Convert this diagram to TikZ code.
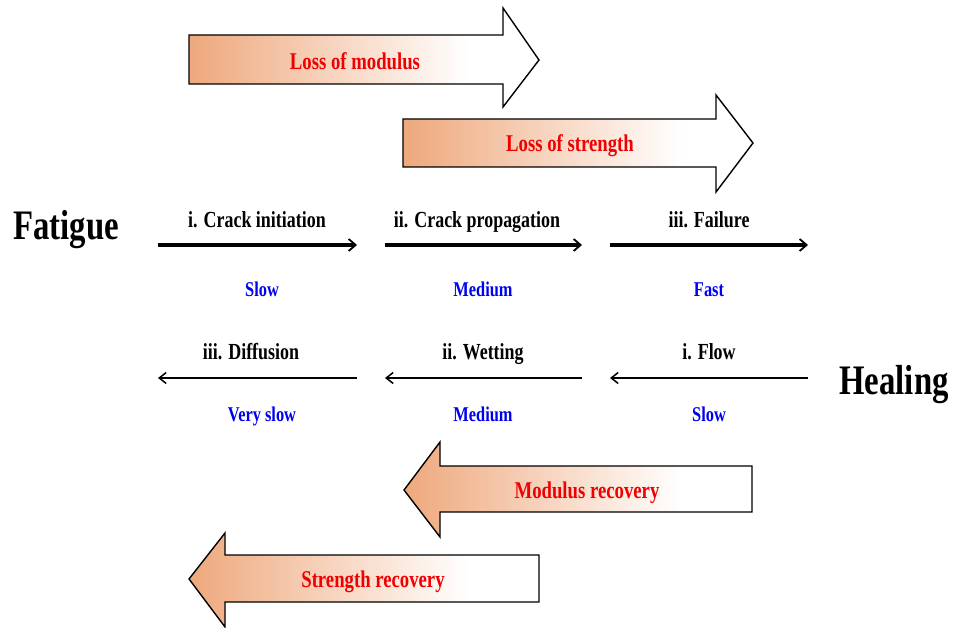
\documentclass[tikz,border=0pt]{standalone}
\usepackage{fontspec}
\setmainfont{Liberation Serif}[FakeStretch=0.78]
\usetikzlibrary{arrows.meta}
\definecolor{org}{RGB}{238,168,124}
\definecolor{lblred}{RGB}{240,0,0}
\definecolor{lblblue}{RGB}{0,0,240}
\pgfdeclarehorizontalshading{arrsh}{100bp}{color(0bp)=(org); color(25bp)=(org); color(65bp)=(white); color(100bp)=(white)}
\tikzset{
  bigarrow/.style={draw=black, line width=1.4pt, line join=miter, shading=arrsh},
  redlbl/.style={anchor=base, text=lblred, font=\bfseries\fontsize{24}{28}\selectfont},
  steplbl/.style={anchor=base, text=black, font=\bfseries\fontsize{23}{27}\selectfont},
  ratelbl/.style={anchor=base, text=lblblue, font=\bfseries\fontsize{21}{24}\selectfont},
  titlelbl/.style={anchor=base, text=black, font=\bfseries\fontsize{42}{48}\selectfont},
  fwd/.style={line width=3.2pt, -{Straight Barb[length=7pt,width=12pt,line width=1.8pt]}},
  bwd/.style={line width=2.2pt, -{Straight Barb[length=7pt,width=11pt,line width=1.5pt]}},
}
\begin{document}
\begin{tikzpicture}[x=1pt,y=-1pt]
\useasboundingbox (0,0) rectangle (954,628);
% Loss of modulus
\path[bigarrow] (189,35) -- (503,35) -- (503,8) -- (539,60) -- (503,107) -- (503,84) -- (189,84) -- cycle;
\node[redlbl] (lm) at (355,70) {Loss of modulus};
% Loss of strength
\path[bigarrow] (403,119) -- (716,119) -- (716,95) -- (753,143) -- (716,192) -- (716,167) -- (403,167) -- cycle;
\node[redlbl] (ls) at (570,152) {Loss of strength};
% Modulus recovery
\path[bigarrow] (752,466) -- (440,466) -- (440,442) -- (404,490) -- (440,537) -- (440,512) -- (752,512) -- cycle;
\node[redlbl] (mr) at (587,498) {Modulus recovery};
% Strength recovery
\path[bigarrow] (539,555) -- (225,555) -- (225,533) -- (189,579) -- (225,627) -- (225,602) -- (539,602) -- cycle;
\node[redlbl] (sr) at (373,587) {Strength recovery};
% titles
\node[titlelbl] (fat) at (66,240) {Fatigue};
\node[titlelbl] (heal) at (894,395) {Healing};
% fatigue row
\coordinate (f0) at (158,245);
\coordinate (f1) at (357,245);
\coordinate (f2) at (385,245);
\coordinate (f3) at (582,245);
\coordinate (f4) at (610,245);
\coordinate (f5) at (808,245);
\draw[fwd] (f0) -- (f1);
\draw[fwd] (f2) -- (f3);
\draw[fwd] (f4) -- (f5);
\node[steplbl] (ci) at (257,228) {i. Crack initiation};
\node[steplbl] (cp) at (477,228) {ii. Crack propagation};
\node[steplbl] (fl) at (709,228) {iii. Failure};
\node[ratelbl] (r1) at (262,297) {Slow};
\node[ratelbl] (r2) at (483,297) {Medium};
\node[ratelbl] (r3) at (709,297) {Fast};
% healing row
\coordinate (h0) at (808,378);
\coordinate (h1) at (610,378);
\coordinate (h2) at (582,378);
\coordinate (h3) at (385,378);
\coordinate (h4) at (357,378);
\coordinate (h5) at (158,378);
\draw[bwd] (h0) -- (h1);
\draw[bwd] (h2) -- (h3);
\draw[bwd] (h4) -- (h5);
\node[steplbl] (fw) at (709,360) {i. Flow};
\node[steplbl] (wt) at (483,360) {ii. Wetting};
\node[steplbl] (df) at (251,360) {iii. Diffusion};
\node[ratelbl] (s1) at (709,422) {Slow};
\node[ratelbl] (s2) at (483,422) {Medium};
\node[ratelbl] (s3) at (262,422) {Very slow};
\end{tikzpicture}
\end{document}
